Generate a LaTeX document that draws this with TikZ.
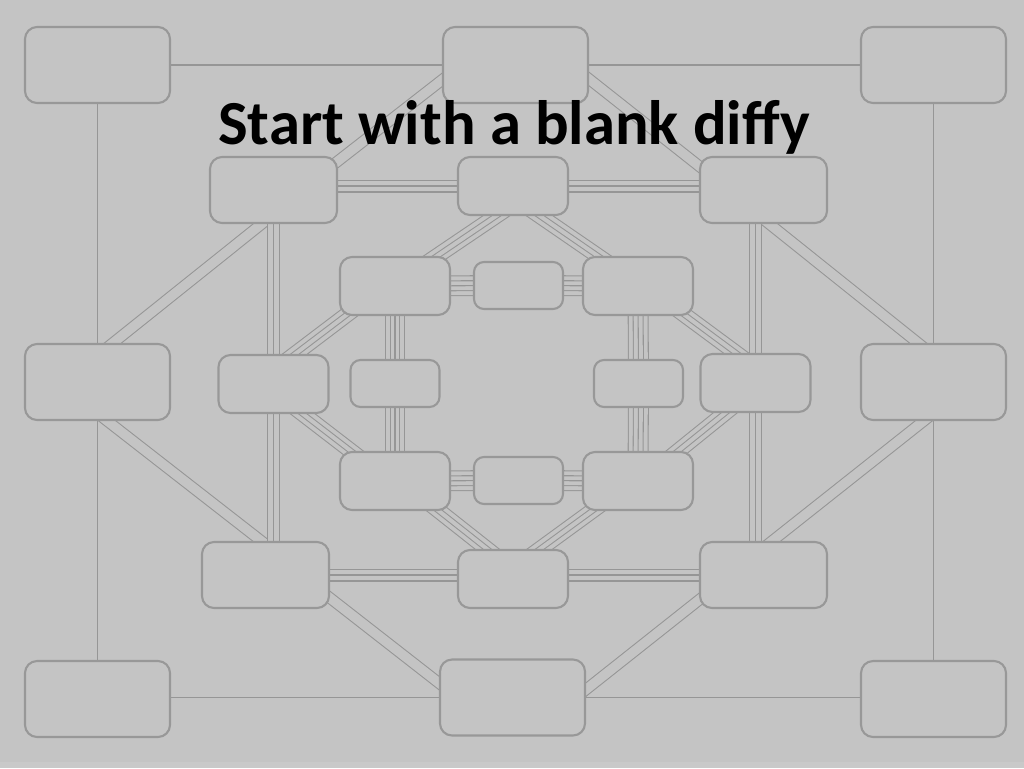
\documentclass[tikz,border=0pt]{standalone}
\usepackage{fontspec}
\setmainfont{Carlito}
\usetikzlibrary{calc}
\definecolor{bgc}{RGB}{196,196,196}
\definecolor{bgl}{RGB}{201,201,201}
\definecolor{lc}{RGB}{150,150,150}
\definecolor{bc}{RGB}{152,152,152}
\pgfdeclarelayer{bglayer}
\pgfdeclarelayer{links}
\pgfsetlayers{bglayer,links,main}
\tikzset{
  box/.style={draw=bc, line width=1.2pt, fill=bgc, rounded corners=0.24cm, inner sep=0pt},
  bigbox/.style={box, minimum width=2.9cm, minimum height=1.52cm},
  midbox/.style={box, minimum width=2.54cm, minimum height=1.32cm},
  medbox/.style={box, minimum width=2.2cm, minimum height=1.16cm},
  smallbox/.style={box, minimum width=1.78cm, minimum height=0.94cm, rounded corners=0.2cm},
  lone/.style={draw=lc, line width=0.6pt},
  ltwo/.style={draw=lc, line width=0.6pt, double=bgc, double distance=5.4pt},
  lthree/.style={preaction={draw=lc, line width=0.6pt, double=bgc, double distance=6.2pt}, draw=lc, line width=0.6pt},
  lfour/.style={preaction={draw=lc, line width=0.6pt, double=bgc, double distance=7.9pt}, draw=lc, line width=0.6pt, double=bgc, double distance=2.25pt},
  lfive/.style={preaction={draw=lc, line width=0.6pt, double=bgc, double distance=10.7pt}, preaction={draw=lc, line width=0.6pt, double=bgc, double distance=5.05pt}, draw=lc, line width=0.6pt},
  title/.style={font=\fontsize{35.7}{42}\selectfont\bfseries, text=black, inner sep=0pt, anchor=base}
}
\begin{document}
\begin{tikzpicture}[x=0.02cm, y=-0.02cm]
\begin{pgfonlayer}{bglayer}
\fill[bgc] (0,0) rectangle (1024,768);
\fill[bgl] (0,762) rectangle (1024,768);
\end{pgfonlayer}
\useasboundingbox (0,0) rectangle (1024,768);

% ring 1
\node[bigbox] (TL) at (97.5,65) {};
\node[bigbox] (TM) at (515.5,65) {};
\node[bigbox] (TR) at (933.5,65) {};
\node[bigbox] (LM) at (97.5,382) {};
\node[bigbox] (RM) at (933.5,382) {};
\node[bigbox] (BL) at (97.5,699) {};
\node[bigbox] (BM) at (512.5,697.5) {};
\node[bigbox] (BR) at (933.5,699) {};
% ring 2
\node[midbox] (TL2) at (273.5,190) {};
\node[medbox] (TM2) at (513,186) {};
\node[midbox] (TR2) at (763.5,190) {};
\node[medbox] (ML2) at (273.5,384) {};
\node[medbox] (MR2) at (755.5,383) {};
\node[midbox] (BL2) at (265.5,575) {};
\node[medbox] (BM2) at (513,579) {};
\node[midbox] (BR2) at (763.5,575) {};
% ring 3
\node[medbox] (TL3) at (395,286) {};
\node[smallbox] (TM3) at (518.5,285.5) {};
\node[medbox] (TR3) at (638,286) {};
\node[smallbox] (ML3) at (395,383.5) {};
\node[smallbox] (MR3) at (638.5,383.5) {};
\node[medbox] (BL3) at (395,481) {};
\node[smallbox] (BM3) at (518.5,480.5) {};
\node[medbox] (BR3) at (638,481) {};

\node[title] (T) at (514,144) {Start with a blank diffy};

% diagonal end points
\coordinate (a1) at ($(LM.north)+(15.5,0)$);  \coordinate (b1) at ($(TL2.south)+(-14.5,2)$);
\coordinate (a2) at ($(LM.south)+(12.5,2)$);  \coordinate (b2) at ($(BL2.north)+(-5.5,-1)$);
\coordinate (a3) at ($(TM.west)+(0,15)$);     \coordinate (b3) at ($(TL2.north east)+(0,5)$);
\coordinate (a4) at ($(TM.east)+(0,14)$);     \coordinate (b4) at ($(TR2.north west)+(0,10)$);
\coordinate (a5) at ($(RM.north)+(-15.5,0)$); \coordinate (b5) at ($(TR2.south)+(8.5,2)$);
\coordinate (a6) at ($(RM.south)+(-12.5,2)$); \coordinate (b6) at ($(BR2.north)+(10,-1)$);
\coordinate (a7) at ($(BM.west)+(0,-14.5)$);  \coordinate (b7) at ($(BL2.east)+(0,23)$);
\coordinate (a8) at ($(BM.east)+(0,-8)$);     \coordinate (b8) at ($(BR2.west)+(0,25)$);
\coordinate (c1) at ($(TM2.south)+(-17,0)$);  \coordinate (d1) at ($(TL3.north)+(42,0)$);
\coordinate (c2) at ($(TM2.south)+(27,0)$);   \coordinate (d2) at ($(TR3.north)+(-40,0)$);
\coordinate (c3) at ($(ML2.north)+(21.5,0)$); \coordinate (d3) at ($(TL3.south west)+(10,-3)$);
\coordinate (c4) at ($(ML2.south)+(29.5,0)$); \coordinate (d4) at ($(BL3.north west)+(12,0)$);
\coordinate (c5) at ($(MR2.north)+(-19.5,0)$);\coordinate (d5) at ($(TR3.south east)+(-12,-3)$);
\coordinate (c6) at ($(MR2.south)+(-30.5,0)$);\coordinate (d6) at ($(BR3.north east)+(-16,0)$);
\coordinate (c7) at ($(BM2.north)+(-26,0)$);  \coordinate (d7) at ($(BL3.south east)+(-12,0)$);
\coordinate (c8) at ($(BM2.north)+(27,0)$);   \coordinate (d8) at ($(BR3.south west)+(10,0)$);

\begin{pgfonlayer}{links}
% ring 1: single lines
\draw[lone] (TL) -- (TM);
\draw[lone] (TM) -- (TR);
\draw[lone] (TL) -- (LM);
\draw[lone] (LM) -- (BL);
\draw[lone] (TR) -- (RM);
\draw[lone] (RM) -- (BR);
\draw[lone] (BM.center) -- (BM.center -| BL.center);
\draw[lone] (BM.center) -- (BM.center -| BR.center);
% ring 1 to ring 2: double lines
\foreach \p/\q in {a1/b1,a2/b2,a3/b3,a4/b4,a5/b5,a6/b6,a7/b7,a8/b8}
  \draw[ltwo] ($(\p)!-9pt!(\q)$) -- ($(\q)!-9pt!(\p)$);
% ring 2: triple lines
\draw[lthree] (TM2.center) -- (TM2.center -| TL2.center);
\draw[lthree] (TM2.center) -- (TM2.center -| TR2.center);
\draw[lthree] (TL2) -- (ML2);
\draw[lthree] (ML2.center) -- (ML2.center |- BL2.center);
\draw[lthree] (MR2.center) -- (MR2.center |- TR2.center);
\draw[lthree] (MR2.center) -- (MR2.center |- BR2.center);
\draw[lthree] (BL2.center) -- (BL2.center -| BM2.center);
\draw[lthree] (BR2.center) -- (BR2.center -| BM2.center);
% ring 2 to ring 3: four lines
\foreach \p/\q in {c1/d1,c2/d2,c3/d3,c4/d4,c5/d5,c6/d6,c7/d7,c8/d8}
  \draw[lfour] ($(\p)!-9pt!(\q)$) -- ($(\q)!-9pt!(\p)$);
% ring 3: five lines
\draw[lfive] (TL3) -- (TM3);
\draw[lfive] (TM3) -- (TR3);
\draw[lfive] (TL3) -- (ML3);
\draw[lfive] (ML3) -- (BL3);
\draw[lfive] (TR3) -- (MR3);
\draw[lfive] (MR3) -- (BR3);
\draw[lfive] (BL3) -- (BM3);
\draw[lfive] (BM3) -- (BR3);
\end{pgfonlayer}
\end{tikzpicture}
\end{document}
